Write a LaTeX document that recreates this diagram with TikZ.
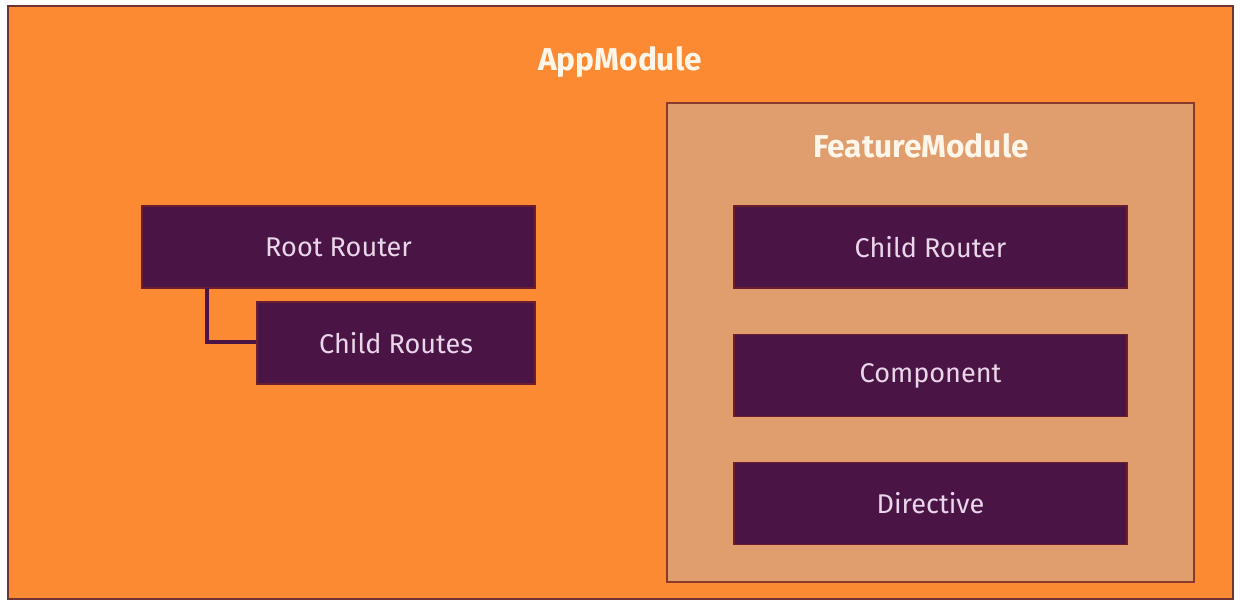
\documentclass[tikz,border=0pt]{standalone}
\usepackage{fontspec}
\setmainfont{Fira Sans}
\definecolor{appfill}{HTML}{FC8A33}
\definecolor{appedge}{HTML}{6E3432}
\definecolor{featfill}{HTML}{E09E6E}
\definecolor{featedge}{HTML}{8A3A2C}
\definecolor{boxfill}{HTML}{4A1445}
\definecolor{boxedge}{HTML}{6A1E30}
\definecolor{boxtext}{HTML}{EAD6EA}
\definecolor{titletext}{HTML}{FFF6EA}
\tikzset{
  modbox/.style={draw=appedge, line width=1pt, fill=appfill},
  featbox/.style={draw=featedge, line width=1.2pt, fill=featfill},
  partbox/.style={draw=boxedge, line width=0.8pt, fill=boxfill, text=boxtext, font=\fontsize{15.4}{18}\selectfont, inner sep=0pt},
  title/.style={text=titletext, font=\fontsize{18}{21}\selectfont\bfseries},
  link/.style={draw=boxfill, line width=2.2pt}
}
\begin{document}
\begin{tikzpicture}[x=0.02cm,y=-0.02cm]
\useasboundingbox (0,0) rectangle (1240,605);
\fill[white] (0,0) rectangle (1240,605);
\draw[modbox] (8,6) rectangle (1233,599);
\node[title] (app) at (620,62) {AppModule};
\draw[featbox] (667,103) rectangle (1194,582);
\node[title] (feat) at (921,146) {FeatureModule};
\node[partbox, minimum width=393*0.02cm, minimum height=82*0.02cm] (root) at (338.5,247) {Root Router};
\node[partbox, minimum width=278*0.02cm, minimum height=82*0.02cm] (routes) at (396,343) {Child Routes};
\coordinate (bend) at (207,342);
\draw[link] (207,288) -- (bend) -- (routes.west |- bend);
\node[partbox, minimum width=393*0.02cm, minimum height=82*0.02cm] (crouter) at (930.5,247) {Child Router};
\node[partbox, minimum width=393*0.02cm, minimum height=82*0.02cm] (comp) at (930.5,375.5) {Component};
\node[partbox, minimum width=393*0.02cm, minimum height=82*0.02cm] (dir) at (930.5,503.5) {Directive};
\end{tikzpicture}
\end{document}
